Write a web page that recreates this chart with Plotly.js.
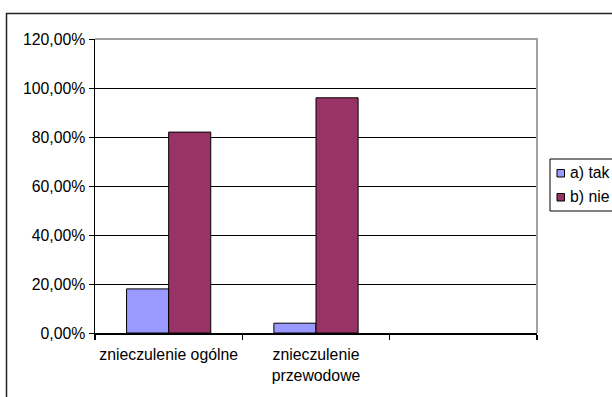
<!DOCTYPE html>
<html>
<head>
<meta charset="utf-8">
<script src="https://cdn.plot.ly/plotly-3.0.1.min.js"></script>
<style>
  html, body { margin: 0; padding: 0; background: #fff; }
  #chart { width: 612px; height: 397px; }
</style>
</head>
<body>
<div id="chart"></div>
<script>
// Categories (the third slot is left empty, as in the original sheet)
const categories = ["znieczulenie ogólne", "znieczulenie<br>przewodowe", " "];
const seriesNames = ["a) tak", "b) nie"];
const takValues = [0.18, 0.04, null];
const nieValues = [0.82, 0.96, null];
const seriesColors = ["#9999FF", "#993366"];
const yTicks = [0, 0.2, 0.4, 0.6, 0.8, 1.0, 1.2];

const W = 612, H = 397;
const M = { l: 95, r: 75, t: 39, b: 64 };
const plotW = W - M.l - M.r;
const plotH = H - M.t - M.b;
// pixel -> paper coordinate helpers
const px = x => (x - M.l) / plotW;
const py = y => (H - M.b - y) / plotH;

const FONT = "Liberation Sans, Arial, sans-serif";
const FS = 15.8;

const traces = [takValues, nieValues].map((vals, i) => ({
  type: "bar",
  name: seriesNames[i],
  x: categories,
  y: vals,
  marker: { color: seriesColors[i], line: { color: "#000", width: 1 } },
  hoverinfo: "skip"
}));

// Hand-laid legend box with colour swatches
const legL = 550, legT = 159, legB = 211, rowY = [173, 197];
const shapes = [
  // outer chart frame
  { type: "rect", xref: "paper", yref: "paper",
    x0: px(6.5), x1: px(W + 20), y0: py(13.5), y1: py(H + 20),
    line: { color: "#222", width: 1.5 }, layer: "above" },
  // plot-area frame (top and right edges)
  { type: "path", xref: "paper", yref: "paper",
    path: `M 0 1 L 1 1 L 1 0`,
    line: { color: "#a0a0a0", width: 2 }, layer: "above" },
  // legend frame
  { type: "rect", xref: "paper", yref: "paper",
    x0: px(legL), x1: px(W + 20), y0: py(legT), y1: py(legB),
    line: { color: "#000", width: 1 }, layer: "above" }
];
const annotations = [];
seriesNames.forEach((name, i) => {
  shapes.push({
    type: "rect", xref: "paper", yref: "paper",
    x0: px(557), x1: px(564.5), y0: py(rowY[i] - 3.5), y1: py(rowY[i] + 4),
    fillcolor: seriesColors[i], line: { color: "#000", width: 1 }, layer: "above"
  });
  annotations.push({
    xref: "paper", yref: "paper", x: px(568), y: py(rowY[i]),
    xanchor: "left", yanchor: "middle", showarrow: false,
    text: name, font: { family: FONT, size: FS, color: "#000" }
  });
});

const layout = {
  width: W, height: H,
  margin: M,
  paper_bgcolor: "#fff",
  plot_bgcolor: "#fff",
  separators: ", ",
  showlegend: false,
  barmode: "group",
  bargap: 1.5 / 3.5,
  bargroupgap: 0,
  font: { family: FONT, size: FS, color: "#000" },
  xaxis: {
    type: "category",
    categoryorder: "array",
    categoryarray: categories,
    range: [-0.5, 2.5],
    tickson: "boundaries",
    tickangle: 0,
    ticks: "outside", ticklen: 5, tickwidth: 1.5, tickcolor: "#000",
    ticklabelstandoff: 7,
    showline: true, linecolor: "#000", linewidth: 1.5,
    showgrid: false,
    tickfont: { family: FONT, size: FS, color: "#000" },
    fixedrange: true
  },
  yaxis: {
    range: [0, 1.2],
    tickvals: yTicks,
    tickformat: ".2%",
    ticks: "outside", ticklen: 5, tickwidth: 1, tickcolor: "#000",
    showline: true, linecolor: "#000", linewidth: 1.5,
    showgrid: true, gridcolor: "#000", gridwidth: 1,
    zeroline: false,
    tickfont: { family: FONT, size: FS, color: "#000" },
    fixedrange: true
  },
  shapes: shapes,
  annotations: annotations
};

Plotly.newPlot("chart", traces, layout, { staticPlot: true, displayModeBar: false });
</script>
</body>
</html>
